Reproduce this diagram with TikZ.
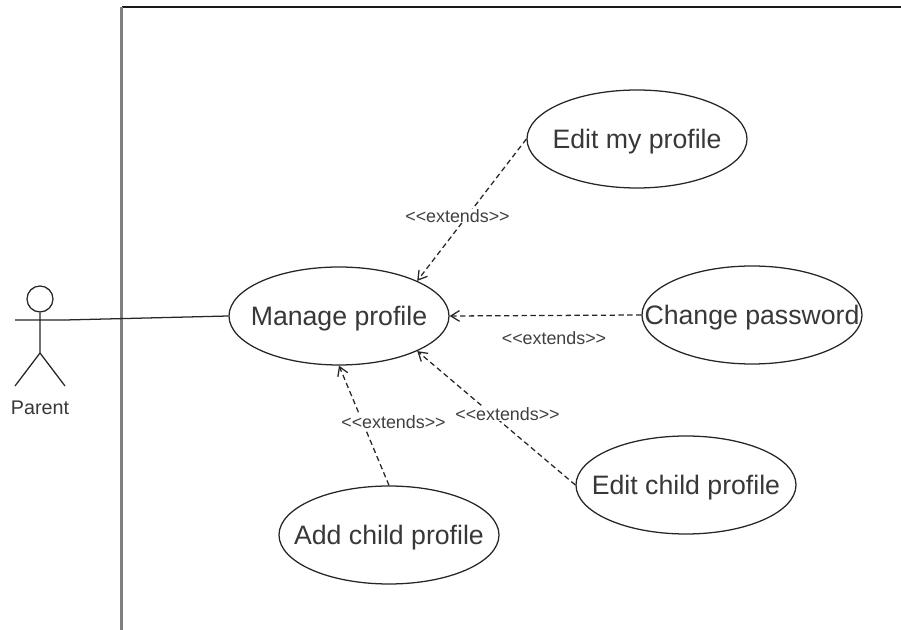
\documentclass[tikz,border=0pt]{standalone}
\usepackage{fontspec}
\setmainfont{Liberation Sans}
\usetikzlibrary{shapes.geometric,arrows.meta}
\newcommand{\uctext}[1]{\raisebox{-7pt}[0pt][0pt]{\makebox[0pt][c]{#1}}}
\tikzset{
 uc/.style={draw=black!85,fill=white,ellipse,line width=0.95pt,minimum width=165pt,minimum height=73.5pt,inner sep=0pt,font=\fontsize{20}{22}\selectfont,text=black!78},
 ext/.style={draw=black!85,line width=0.95pt,dash pattern=on 4pt off 2.6pt,-{Straight Barb[length=6.5pt,width=8pt]}},
 lab/.style={font=\fontsize{13.4}{14}\selectfont,text=black!75,inner sep=0.5pt,fill=white},
}
\begin{document}
\begin{tikzpicture}[x=0.75pt,y=-0.75pt]
\useasboundingbox (0,0) rectangle (901,630);
\coordinate (bl) at (121.5,630);
\coordinate (tl) at (121.5,7);
\coordinate (tr) at (901,7);
\draw[line width=0.9pt,black!90] (tl) -- (tr);
\draw[line width=2pt,black!50] (bl) -- (tl);
\node[uc] (mp) at (339,316) {\uctext{Manage profile}};
\node[uc] (ep) at (637,139) {\uctext{Edit my profile}};
\node[uc] (cp) at (752,315) {\uctext{Change password}};
\node[uc] (ec) at (686,485) {\uctext{Edit child profile}};
\node[uc] (ac) at (389,535) {\uctext{Add child profile}};
\node[circle,draw=black!85,line width=0.95pt,minimum size=19.5pt,inner sep=0pt] (hd) at (40,299) {};
\coordinate (hip) at (40,353);
\coordinate (al) at (15,320);
\coordinate (ar) at (65,320);
\coordinate (fl) at (15,386);
\coordinate (fr) at (65,386);
\draw[line width=0.95pt,black!85] (hd.south) -- (hip) (al) -- (ar) (hip) -- (fl) (hip) -- (fr);
\node[font=\fontsize{14.8}{16}\selectfont,text=black!78,inner sep=0pt] (parent) at (40,408) {Parent};
\draw[line width=0.95pt,black!85] (ar) -- (mp.west);
\draw[ext] (ep.west) -- (mp.north east);
\draw[ext] (cp.west) -- (mp.east);
\draw[ext] (ec.west) -- (mp.south east);
\draw[ext] (ac.north) -- (mp.south);
\node[lab] (l1) at (457.5,216) {{<}{<}extends{>}{>}};
\node[lab] (l2) at (554,338) {{<}{<}extends{>}{>}};
\node[lab] (l3) at (507.5,414) {{<}{<}extends{>}{>}};
\node[lab] (l4) at (393.5,422) {{<}{<}extends{>}{>}};
\end{tikzpicture}
\end{document}
